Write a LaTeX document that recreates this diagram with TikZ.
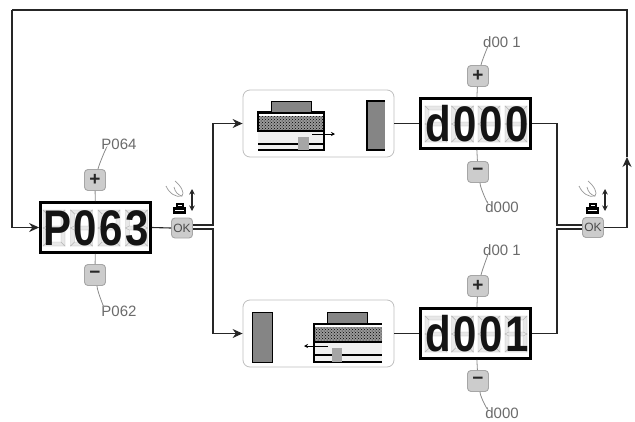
\documentclass[tikz,border=0pt]{standalone}
\usepackage{fontspec}
\setmainfont{Liberation Sans}
\newfontfamily\segfont[LetterSpace=6]{Liberation Sans}
\usetikzlibrary{arrows.meta,patterns,calc}
\definecolor{btn}{gray}{0.80}
\definecolor{lblc}{gray}{0.42}
\tikzset{
  wire/.style={draw=black!85,line width=1.1pt},
  thinlink/.style={draw=black!45,line width=.8pt},
  arr/.style={wire,-{Stealth[length=10pt,width=9pt]}},
  display/.style={draw=black,line width=2.8pt,fill=white,minimum width=110pt,minimum height=50pt,inner sep=0pt,outer sep=1.4pt},
  seg/.style={font=\segfont\bfseries\fontsize{50}{50}\selectfont,inner sep=0pt,text=black!92,xscale=.84,transform shape},
  btnbox/.style={draw=black!35,fill=btn,rounded corners=3.5pt,line width=.9pt,minimum width=21pt,minimum height=21pt,inner sep=0pt,text=black!85},
  pm/.style={btnbox,font=\bfseries\fontsize{19}{19}\selectfont},
  okbtn/.style={btnbox,minimum width=21pt,minimum height=20pt,text=black!70,font=\fontsize{12}{12}\selectfont},
  lbl/.style={text=lblc,font=\fontsize{15}{15}\selectfont,inner sep=0pt},
  panel/.style={draw=black!25,fill=white,rounded corners=7pt,line width=.8pt,minimum width=151pt,minimum height=67pt,inner sep=0pt},
  ghost/.style={draw=black!28,fill=black!9,line width=.4pt},
  grayblock/.style={fill=black!48,draw=black,line width=1pt},
}
\newcommand{\ghostdigit}[2]{%
  \begin{scope}[shift={(#1,#2)}]
    \path[ghost] (-11,-18) -- (11,-18) -- (7,-14) -- (-7,-14) -- cycle;
    \path[ghost] (-11,18) -- (11,18) -- (7,14) -- (-7,14) -- cycle;
    \path[ghost] (-11,-18) -- (-7,-14) -- (-7,-2) -- (-11,0) -- cycle;
    \path[ghost] (11,-18) -- (7,-14) -- (7,-2) -- (11,0) -- cycle;
    \path[ghost] (-11,18) -- (-7,14) -- (-7,2) -- (-11,0) -- cycle;
    \path[ghost] (11,18) -- (7,14) -- (7,2) -- (11,0) -- cycle;
    \path[ghost] (-11,0) -- (-7,-2) -- (7,-2) -- (11,0) -- (7,2) -- (-7,2) -- cycle;
  \end{scope}}
\newcommand{\handicon}[1]{%
  \begin{scope}[shift={(#1,0)}]
    \draw[black!40,line width=.7pt] (-13,186) .. controls (-10,193) and (-3,198) .. (3,196) .. controls (6,193) and (2,186) .. (-4,181);
    \draw[black!40,line width=.7pt] (-5,187) .. controls (-4,192) and (-1,195) .. (3,196);
    \fill[black] (-6,207) rectangle (7,214);
    \fill[white] (-4,209.5) rectangle (5,211);
    \fill[black] (-3,203) rectangle (4.5,207);
    \fill[white] (-1.5,204.5) rectangle (3,206);
    \draw[black!85,line width=1.2pt,{Stealth[length=5.5pt,width=5.5pt]}-{Stealth[length=5.5pt,width=5.5pt]}] (13,189) -- (13,211);
  \end{scope}}
\begin{document}
\begin{tikzpicture}[x=1pt,y=-1pt]
\useasboundingbox (0,0) rectangle (635,421);
\fill[white] (0,0) rectangle (635,421);

% ---- displays
\node[display] (dP) at (95.5,227.5) {};
\node[display] (dA) at (475.5,123.5) {};
\node[display] (dB) at (475.5,333.5) {};
\foreach \x in {54,81.5,109,136.5} {\ghostdigit{\x}{228}}
\foreach \x in {436,462.5,489,516} {\ghostdigit{\x}{124}\ghostdigit{\x}{334}}
\node[seg] (tP) at (96,228) {P063};
\node[seg] (tA) at (477,124) {d000};
\node[seg] (tB) at (477,334) {d001};

% ---- buttons
\node[pm] (pP) at (95,180) {+};
\node[pm] (mP) at (95,275) {−};
\node[okbtn] (okL) at (182,228) {OK};
\node[okbtn] (okR) at (593,227.5) {OK};
\node[pm] (pA) at (478,76) {+};
\node[pm] (mA) at (478,172) {−};
\node[pm] (pB) at (478,286) {+};
\node[pm] (mB) at (478,381) {−};

% ---- labels
\node[lbl] (lP1) at (119,144) {P064};
\node[lbl] (lP2) at (119,311) {P062};
\node[lbl] (lA1) at (502,42) {d00 1};
\node[lbl] (lA2) at (502,207) {d000};
\node[lbl] (lB1) at (502,250) {d00 1};
\node[lbl] (lB2) at (502,413) {d000};

% ---- panels
\node[panel] (pnA) at (318.5,123.5) {};
\node[panel] (pnB) at (318.5,333.5) {};

% panel A contents
\fill[black!6] (258,131) rectangle (324,150);
\path[fill=black!40] (258,116) rectangle (324,131);
\path[pattern=crosshatch dots,pattern color=black] (258,116) rectangle (324,131);
\draw[black,line width=1.2pt] (258,150) -- (324,150) -- (324,112) -- (258,112) -- (258,131) -- (324,131);
\draw[black,line width=2pt] (258,113) -- (324,113);
\draw[black,line width=1.2pt] (258,144) -- (324,144);
\fill[black!48] (271.5,102) rectangle (310.5,111.5);
\draw[black,line width=1pt] (271,112) -- (271,101) -- (311,101) -- (311,112);
\fill[black!35] (298,137) rectangle (309,150);
\draw[black,line width=.9pt,-{Stealth[length=4pt,width=4pt]}] (312,134) -- (335,134);
\fill[black!48] (367,101) rectangle (385,150);
\draw[black,line width=1.1pt] (385,101) -- (367,101) -- (367,150) -- (385,150);

% panel B contents
\fill[black!6] (314,342) rectangle (382,362);
\path[fill=black!40] (314,327) rectangle (382,342);
\path[pattern=crosshatch dots,pattern color=black] (314,327) rectangle (382,342);
\draw[black,line width=1.2pt] (382,362) -- (314,362) -- (314,323);
\draw[black,line width=2pt] (314,324) -- (382,324);
\draw[black,line width=1.2pt] (314,342) -- (382,342);
\draw[black,line width=1.2pt] (314,355) -- (382,355);
\fill[black!48] (327.5,313) rectangle (366.5,322.5);
\draw[black,line width=1pt] (327,323) -- (327,312) -- (367,312) -- (367,323);
\fill[black!35] (332,348) rectangle (342,362);
\draw[black,line width=.9pt,-{Stealth[length=4pt,width=4pt]}] (328,346) -- (304,346);
\draw[grayblock] (252,312) rectangle (272,362);

% ---- hand icons
\handicon{179}
\handicon{592}

% ---- coordinates for the wires
\coordinate (topL) at (12,10);
\coordinate (topR) at (627,10);
\coordinate (busL) at (213,227);
\coordinate (busR) at (557,227);
\coordinate (upTip) at (627,157);

% ---- feedback loop
\draw[arr] (topL) |- (dP.west);
\draw[wire] (topL) -- (topR) -- (upTip);
\draw[arr] (okR.east) -| (upTip);

% ---- left branch
\draw[wire] (dP.east) -- (okL.west);
\draw[arr] ($(okL.east)+(0,-3)$) -- ($(busL)+(0,-2)$) |- (pnA.west);
\draw[arr] ($(okL.east)+(0,1)$) -- ($(busL)+(0,2)$) |- (pnB.west);

% ---- right branch
\draw[wire] (pnA.east) -- (dA.west);
\draw[wire] (pnB.east) -- (dB.west);
\draw[wire] (dA.east) -| ($(busR)+(0,-2)$) -- ($(okR.west)+(0,-2.5)$);
\draw[wire] (dB.east) -| ($(busR)+(0,2)$) -- ($(okR.west)+(0,1.5)$);

% ---- thin links
\draw[thinlink] (pP) -- (dP);
\draw[thinlink] (mP) -- (dP);
\draw[thinlink] (pA) -- (dA);
\draw[thinlink] (mA) -- (dA);
\draw[thinlink] (pB) -- (dB);
\draw[thinlink] (mB) -- (dB);
\draw[thinlink] ($(pP.north)+(3,0)$) .. controls +(1,-5) and +(4,-10) .. ($(lP1.south west)+(4,1)$);
\draw[thinlink] ($(mP.south)+(2,0)$) .. controls +(0,5) and +(3,8) .. ($(lP2.north west)+(2,0)$);
\draw[thinlink] ($(pA.north)+(3,0)$) .. controls +(1,-5) and +(4,-10) .. ($(lA1.south west)+(4,1)$);
\draw[thinlink] ($(mA.south)+(2,0)$) .. controls +(0,5) and +(3,8) .. ($(lA2.north west)+(2,0)$);
\draw[thinlink] ($(pB.north)+(3,0)$) .. controls +(1,-5) and +(4,-10) .. ($(lB1.south west)+(4,1)$);
\draw[thinlink] ($(mB.south)+(2,0)$) .. controls +(0,5) and +(3,8) .. ($(lB2.north west)+(2,0)$);
\end{tikzpicture}
\end{document}
